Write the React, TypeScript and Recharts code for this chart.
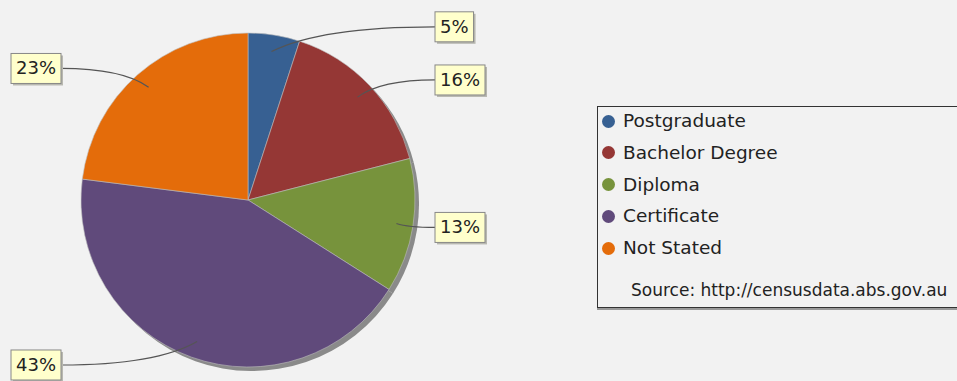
import React from 'react';
import { PieChart, Pie, Cell, Legend } from 'recharts';

const categories = ['Postgraduate', 'Bachelor Degree', 'Diploma', 'Certificate', 'Not Stated'];
const values = [5, 16, 13, 43, 23];
const colors = ['#376092', '#953735', '#77933C', '#604A7B', '#E46C0A'];
const sourceText = 'Source: http://censusdata.abs.gov.au';

const data = categories.map((name, i) => ({ name, value: values[i] }));

const RAD = Math.PI / 180;
const CX = 248;
const CY = 200;
const R = 167;
const FONT = "'DejaVu Sans', Verdana, sans-serif";

const charW = (s: string, size: number) => {
  let w = 0;
  for (const ch of s) w += ch === '%' ? 0.95 : 0.636;
  return w * size;
};

const renderLabel = (props: any) => {
  const { cx, cy, midAngle, outerRadius, percent, index } = props;
  const c = Math.cos(-midAngle * RAD);
  const s = Math.sin(-midAngle * RAD);
  const text = `${Math.round(percent * 100)}%`;
  const fs = 18;
  const boxW = charW(text, fs) + 10;
  const boxH = 30;
  const right = c >= 0;
  const labelY = cy + outerRadius * 1.05 * s;
  const boxX = right ? cx + 187 : cx - 187 - boxW;
  const boxY = labelY - boxH / 2;
  const px = cx + outerRadius * 0.9 * c;
  const py = cy + outerRadius * 0.9 * s;
  const bx = right ? boxX : boxX + boxW;
  const by = labelY;
  const ctrlX = px + 0.3 * (bx - px);
  return (
    <g key={`lbl-${index}`}>
      <path d={`M${px},${py} Q${ctrlX},${by} ${bx},${by}`} fill="none" stroke="#555" strokeWidth={1.2} />
      <rect x={boxX + 2} y={boxY + 2} width={boxW} height={boxH} fill="#b8b8b0" />
      <rect x={boxX} y={boxY} width={boxW} height={boxH} fill="#ffffcc" stroke="#888" strokeWidth={1} />
      <text x={boxX + boxW / 2} y={labelY + 1} textAnchor="middle" dominantBaseline="middle" fontFamily={FONT} fontSize={fs} fill="#222">
        {text}
      </text>
    </g>
  );
};

const LegendBox = () => (
  <div
    style={{
      position: 'relative',
      width: 380,
      height: 202,
      boxSizing: 'border-box',
      border: '1.5px solid #333',
      boxShadow: '0 2px 0 #999',
      fontFamily: FONT,
      color: '#222',
    }}
  >
    {categories.map((name, i) => (
      <div
        key={name}
        style={{
          position: 'absolute',
          left: 4,
          top: 14 + i * 31.75 - 12,
          height: 24,
          display: 'flex',
          alignItems: 'center',
          whiteSpace: 'nowrap',
        }}
      >
        <span
          style={{
            display: 'inline-block',
            width: 13,
            height: 13,
            borderRadius: '50%',
            background: colors[i],
            marginRight: 8,
          }}
        />
        <span style={{ fontSize: 18.5, lineHeight: '24px' }}>{name}</span>
      </div>
    ))}
    <div
      style={{
        position: 'absolute',
        left: 33,
        top: 171,
        height: 24,
        lineHeight: '24px',
        fontSize: 17,
        whiteSpace: 'nowrap',
      }}
    >
      {sourceText}
    </div>
  </div>
);

export default function App() {
  return (
    <div
      style={{
        position: 'absolute',
        left: 0,
        top: 0,
        width: 957,
        height: 381,
        background: '#f2f2f2',
        overflow: 'hidden',
      }}
    >
      <PieChart width={957} height={381} margin={{ top: 0, right: 0, bottom: 0, left: 0 }}>
        <Pie
          data={data}
          dataKey="value"
          nameKey="name"
          cx={CX + 4}
          cy={CY + 4}
          outerRadius={R}
          startAngle={90}
          endAngle={-270}
          fill="#8a8a8a"
          stroke="none"
          legendType="none"
          isAnimationActive={false}
        />
        <Pie
          data={data}
          dataKey="value"
          nameKey="name"
          cx={CX}
          cy={CY}
          outerRadius={R}
          startAngle={90}
          endAngle={-270}
          stroke="#bdbdbd"
          strokeWidth={0.6}
          label={renderLabel}
          labelLine={false}
          isAnimationActive={false}
        >
          {data.map((d, i) => (
            <Cell key={d.name} fill={colors[i]} />
          ))}
        </Pie>
        <Legend
          layout="vertical"
          align="right"
          verticalAlign="top"
          content={() => <LegendBox />}
          wrapperStyle={{ left: 597, top: 106, width: 380, height: 202 }}
        />
      </PieChart>
    </div>
  );
}
